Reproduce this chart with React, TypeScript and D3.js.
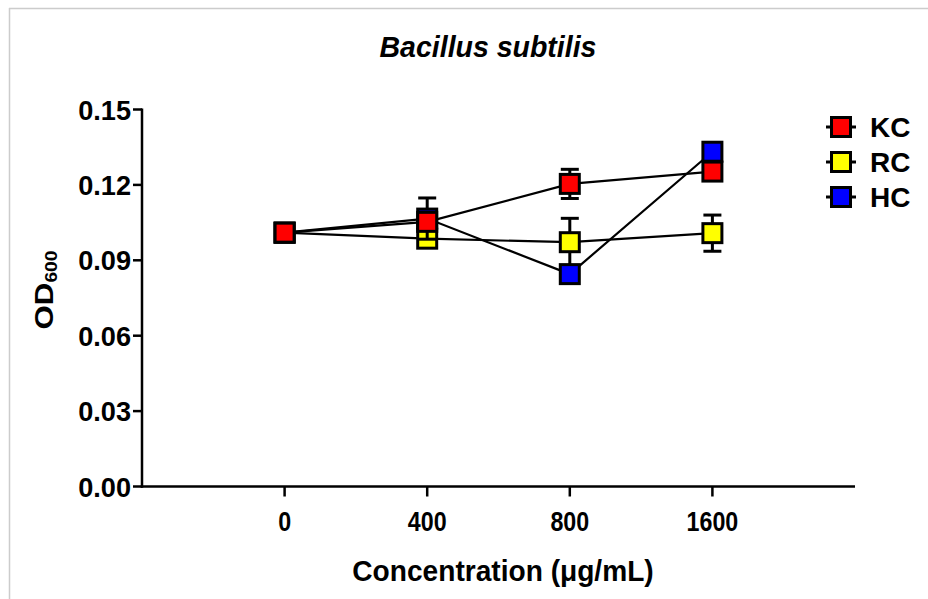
import React from "react";
import * as d3 from "d3";

// Concentration groups (ordinal positions on the x axis)
const concentrations = ["0", "400", "800", "1600"];

// Mean OD600 per extract and its error
const kcMean = [0.101, 0.1053, 0.1204, 0.1253];
const kcErr = [0, 0.003, 0.0058, 0.003];
const rcMean = [0.101, 0.0986, 0.0972, 0.1008];
const rcErr = [0, 0.003, 0.0095, 0.0072];
const hcMean = [0.101, 0.1066, 0.0845, 0.1332];
const hcErr = [0, 0.0082, 0.003, 0.003];

const yTicks = [0, 0.03, 0.06, 0.09, 0.12, 0.15];

const seriesNames = ["KC", "RC", "HC"];
const seriesColors = ["#ff0000", "#ffff00", "#0000ff"];

const W = 928;
const H = 599;
const FONT = "'Liberation Sans', Arial, Helvetica, sans-serif";

// Text in a narrow bold face: a horizontal squeeze around the anchor point
function Label(props: {
  x: number;
  y: number;
  sx?: number;
  size: number;
  anchor?: "start" | "middle" | "end";
  italic?: boolean;
  dy?: string;
  children: React.ReactNode;
}) {
  const { x, y, sx = 1, size, anchor = "start", italic, dy, children } = props;
  return (
    <g transform={`translate(${x},${y}) scale(${sx},1)`}>
      <text
        textAnchor={anchor}
        fontSize={size}
        fontWeight="bold"
        fontStyle={italic ? "italic" : "normal"}
        dy={dy}
      >
        {children}
      </text>
    </g>
  );
}

export default function App() {
  const x = d3.scaleLinear().domain([-1, 4]).range([142, 855]);
  const y = d3.scaleLinear().domain([0, 0.15]).range([486.5, 109.5]);

  const series = [
    { name: seriesNames[0], color: seriesColors[0], mean: kcMean, err: kcErr },
    { name: seriesNames[1], color: seriesColors[1], mean: rcMean, err: rcErr },
    { name: seriesNames[2], color: seriesColors[2], mean: hcMean, err: hcErr },
  ];
  // drawing order: RC, HC, then KC on top
  const drawOrder = [series[1], series[2], series[0]];

  const line = d3
    .line<number>()
    .x((_, i) => x(i))
    .y((d) => y(d));

  const box = 19;
  const capW = 18;

  return (
    <svg
      width={W}
      height={H}
      style={{ position: "absolute", left: 0, top: 0, background: "#fff" }}
      fontFamily={FONT}
    >
      {/* frame */}
      <line x1={9} y1={8.5} x2={W} y2={8.5} stroke="#cccccc" strokeWidth={1.5} />
      <line x1={9.5} y1={8} x2={9.5} y2={H} stroke="#cccccc" strokeWidth={1.5} />

      {/* title */}
      <Label x={488} y={57} sx={0.95} size={30} anchor="middle" italic>
        Bacillus subtilis
      </Label>

      {/* y axis */}
      <line x1={x(-1)} y1={y(0.15) - 1} x2={x(-1)} y2={y(0) + 1.25} stroke="#000" strokeWidth={2.5} />
      {yTicks.map((t) => (
        <g key={t}>
          <line x1={x(-1) - 9} x2={x(-1)} y1={y(t)} y2={y(t)} stroke="#000" strokeWidth={2.5} />
          <Label x={131} y={y(t)} sx={0.97} size={28} anchor="end" dy="0.36em">
            {d3.format(".2f")(t)}
          </Label>
        </g>
      ))}
      <g transform="translate(53, 290) rotate(-90) scale(1.2,1)">
        <text textAnchor="middle" fontSize={26} fontWeight="bold">
          OD
          <tspan fontSize={16} dy={4}>
            600
          </tspan>
        </text>
      </g>

      {/* x axis */}
      <line x1={x(-1) - 1.25} y1={y(0)} x2={x(4)} y2={y(0)} stroke="#000" strokeWidth={2.5} />
      {concentrations.map((c, i) => (
        <g key={c}>
          <line x1={x(i)} x2={x(i)} y1={y(0)} y2={y(0) + 10} stroke="#000" strokeWidth={2.5} />
          <Label x={x(i)} y={531} sx={0.83} size={28} anchor="middle">
            {c}
          </Label>
        </g>
      ))}
      <Label x={503} y={581} sx={0.97} size={29} anchor="middle">
        Concentration (μg/mL)
      </Label>

      {/* connecting lines */}
      {drawOrder.map((s) => (
        <path key={s.name} d={line(s.mean) || ""} fill="none" stroke="#000" strokeWidth={2.2} />
      ))}

      {/* error bars and markers */}
      {drawOrder.map((s) => (
        <g key={s.name}>
          {s.mean.map((m, i) => {
            const e = s.err[i];
            const cx = x(i);
            return (
              <g key={i}>
                {e > 0 && (
                  <g stroke="#000" strokeWidth={3}>
                    <line x1={cx} x2={cx} y1={y(m + e)} y2={y(m - e)} />
                    <line x1={cx - capW / 2} x2={cx + capW / 2} y1={y(m + e)} y2={y(m + e)} />
                    <line x1={cx - capW / 2} x2={cx + capW / 2} y1={y(m - e)} y2={y(m - e)} />
                  </g>
                )}
                <rect
                  x={cx - box / 2}
                  y={y(m) - box / 2}
                  width={box}
                  height={box}
                  fill={s.color}
                  stroke="#000"
                  strokeWidth={3}
                />
              </g>
            );
          })}
        </g>
      ))}

      {/* legend */}
      {series.map((s, i) => {
        const ly = 127 + i * 35;
        return (
          <g key={s.name}>
            <line x1={826} x2={856} y1={ly} y2={ly} stroke="#000" strokeWidth={3} />
            <rect
              x={841 - box / 2}
              y={ly - box / 2}
              width={box}
              height={box}
              fill={s.color}
              stroke="#000"
              strokeWidth={3}
            />
            <Label x={870} y={ly} size={28} dy="0.36em">
              {s.name}
            </Label>
          </g>
        );
      })}
    </svg>
  );
}
